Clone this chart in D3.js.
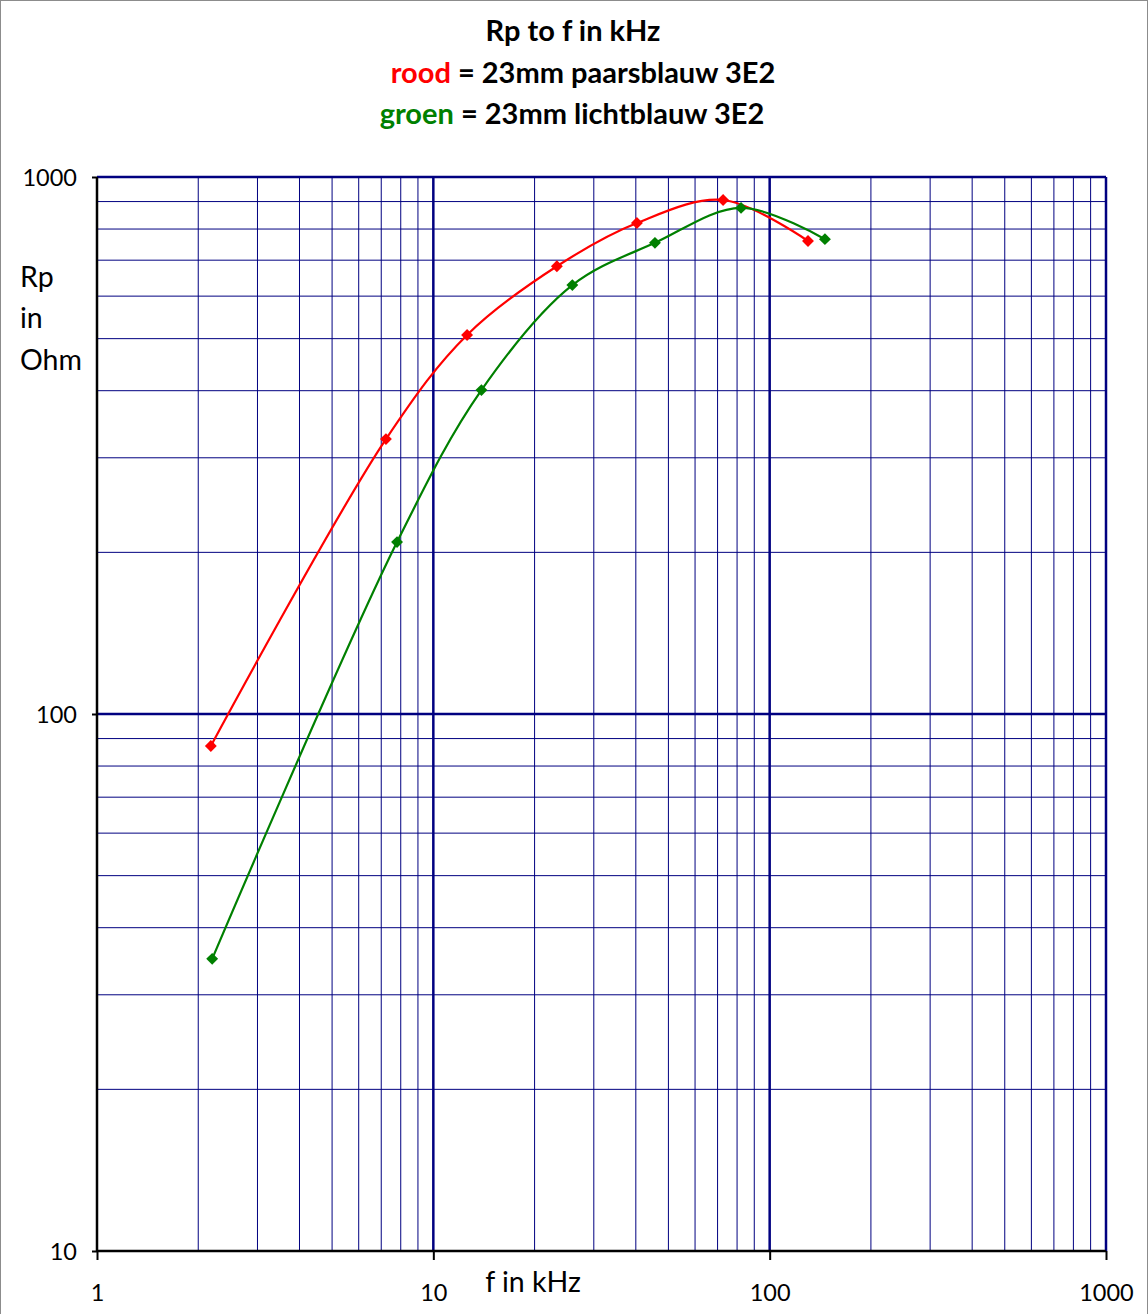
<!DOCTYPE html>
<html><head><meta charset="utf-8">
<script src="https://cdn.jsdelivr.net/npm/d3@7"></script>
<style>body{margin:0;background:#fff}svg{display:block}</style>
</head><body>
<script>
const redF = [2.18, 7.23, 12.6, 23.3, 40.3, 72.7, 130];
const redRp = [87.2, 325, 508, 682, 821, 906, 760];
const greenF = [2.2, 7.8, 13.9, 25.9, 45.6, 82.2, 146];
const greenRp = [35.0, 209, 401, 629, 754, 876, 766];
const xTicks = [1, 10, 100, 1000];
const yTicks = [10, 100, 1000];

const W = 1148, H = 1314;
const svg = d3.select("body").append("svg").attr("width", W).attr("height", H);
svg.append("rect").attr("x",0.5).attr("y",0.5).attr("width",W-1).attr("height",H+5).attr("fill","#fff").attr("stroke","#8c8c8c");

const font = "Lato, 'Open Sans', sans-serif";
const x = d3.scaleLog().domain([1,1000]).range([97,1106]);
const y = d3.scaleLog().domain([10,1000]).range([1251,177]);

// minor grid
const minorX = [], minorY = [];
for (let d of [1,10,100]) for (let k=2;k<=9;k++) minorX.push(d*k);
for (let d of [10,100]) for (let k=2;k<=9;k++) minorY.push(d*k);
const g = svg.append("g");
g.selectAll(".mx").data(minorX).join("line")
  .attr("x1",d=>x(d)).attr("x2",d=>x(d)).attr("y1",177).attr("y2",1251)
  .attr("stroke","#000080").attr("stroke-width",1);
g.selectAll(".my").data(minorY).join("line")
  .attr("y1",d=>y(d)).attr("y2",d=>y(d)).attr("x1",97).attr("x2",1106)
  .attr("stroke","#000080").attr("stroke-width",1);
// major grid
g.selectAll(".Mx").data([10,100,1000]).join("line")
  .attr("x1",d=>x(d)).attr("x2",d=>x(d)).attr("y1",177).attr("y2",1251)
  .attr("stroke","#000080").attr("stroke-width",2.5);
g.selectAll(".My").data([100,1000]).join("line")
  .attr("y1",d=>y(d)).attr("y2",d=>y(d)).attr("x1",97).attr("x2",1106)
  .attr("stroke","#000080").attr("stroke-width",2.5);

// axes
const xAxis = d3.axisBottom(x).tickValues(xTicks).tickFormat(d3.format("d")).tickSize(9).tickPadding(24);
const yAxis = d3.axisLeft(y).tickValues(yTicks).tickFormat(d3.format("d")).tickSize(5).tickPadding(15);
const gx = svg.append("g").attr("transform","translate(0,1251)").call(xAxis);
const gy = svg.append("g").attr("transform","translate(97,0)").call(yAxis);
for (const a of [gx, gy]) {
  a.select(".domain").attr("stroke","#000").attr("stroke-width",2.5);
  a.selectAll(".tick line").attr("stroke","#000").attr("stroke-width",2);
  a.selectAll("text").attr("font-family",font).attr("font-size",23.5).attr("fill","#000");
}
gx.select(".domain").attr("d","M97,0H1106");
gy.select(".domain").attr("d","M0,177V1251");
gy.selectAll(".tick line").attr("x1",0);
gy.selectAll(".tick text").attr("x",-20).attr("dy","0.35em");

// series
const line = d3.line().x(d=>x(d[0])).y(d=>y(d[1])).curve(d3.curveCatmullRom.alpha(0.5));
const series = [
  {f: redF, v: redRp, c: "#ff0000"},
  {f: greenF, v: greenRp, c: "#008000"}
];
for (const s of series) {
  const pts = s.f.map((f,i)=>[f, s.v[i]]);
  svg.append("path").datum(pts).attr("d", line).attr("fill","none").attr("stroke", s.c).attr("stroke-width",2.2);
  svg.append("g").selectAll("path").data(pts).join("path")
    .attr("d", d3.symbol(d3.symbolDiamond2, 90))
    .attr("transform", d=>`translate(${x(d[0])},${y(d[1])})`)
    .attr("fill", s.c);
}

// titles
const t = svg.append("g").attr("font-family",font).attr("font-weight","bold").attr("font-size",29).attr("text-anchor","middle");
t.append("text").attr("x",573).attr("y",41).text("Rp to f in kHz");
const l2 = t.append("text").attr("x",583).attr("y",83);
l2.append("tspan").attr("fill","#ff0000").text("rood");
l2.append("tspan").attr("fill","#000").text(" = 23mm paarsblauw 3E2");
const l3 = t.append("text").attr("x",572).attr("y",124);
l3.append("tspan").attr("fill","#008000").text("groen");
l3.append("tspan").attr("fill","#000").text(" = 23mm lichtblauw 3E2");

const yl = svg.append("g").attr("font-family",font).attr("font-size",28.5);
yl.append("text").attr("x",20).attr("y",287).text("Rp");
yl.append("text").attr("x",20).attr("y",328).text("in");
yl.append("text").attr("x",20).attr("y",370).text("Ohm");
svg.append("text").attr("x",533).attr("y",1292).attr("text-anchor","middle").attr("font-family",font).attr("font-size",28.5).text("f in kHz");
</script>
</body></html>
